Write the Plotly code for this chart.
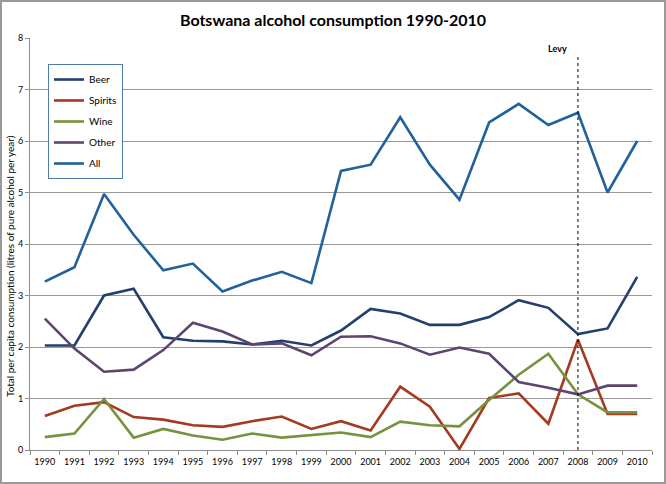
import plotly.graph_objects as go

years = [str(y) for y in range(1990, 2011)]
beer = [2.03, 2.03, 3.00, 3.13, 2.19, 2.12, 2.11, 2.05, 2.12, 2.03, 2.32,
        2.74, 2.65, 2.43, 2.43, 2.58, 2.91, 2.76, 2.25, 2.36, 3.36]
spirits = [0.66, 0.86, 0.93, 0.64, 0.59, 0.48, 0.45, 0.56, 0.65, 0.41, 0.56,
           0.38, 1.23, 0.84, 0.02, 1.01, 1.10, 0.51, 2.14, 0.70, 0.70]
wine = [0.25, 0.32, 0.99, 0.24, 0.41, 0.28, 0.20, 0.32, 0.24, 0.29, 0.34,
        0.25, 0.55, 0.48, 0.46, 0.97, 1.46, 1.87, 1.08, 0.73, 0.73]
other = [2.55, 1.97, 1.52, 1.56, 1.94, 2.47, 2.30, 2.05, 2.07, 1.84, 2.20,
         2.21, 2.07, 1.85, 1.99, 1.87, 1.32, 1.21, 1.08, 1.25, 1.25]
all_ = [3.27, 3.55, 4.97, 4.18, 3.49, 3.62, 3.08, 3.29, 3.46, 3.24, 5.42,
        5.54, 6.46, 5.54, 4.86, 6.36, 6.72, 6.31, 6.55, 5.00, 6.00]

series_names = ["Beer", "Spirits", "Wine", "Other", "All"]
series_values = [beer, spirits, wine, other, all_]
series_colors = ["#243F6E", "#A33A22", "#77923C", "#5E4570", "#21619C"]

levy_year = "2008"
levy_top = 7.63
y_ticks = list(range(0, 9))

FONT = "Lato, Open Sans, sans-serif"

# category axis: shapes need the category index
levy_idx = years.index(levy_year)

fig = go.Figure()
for i, (name, vals, col) in enumerate(zip(series_names, series_values, series_colors)):
    fig.add_trace(go.Scatter(
        x=years, y=vals, name=name, mode="lines",
        line=dict(color=col, width=2.6),
        legendgroup=name,
    ))

fig.add_shape(type="line", xref="x", yref="y",
              x0=levy_idx, x1=levy_idx, y0=0, y1=levy_top,
              line=dict(color="black", width=1, dash="dot"), layer="above")
fig.add_annotation(x=levy_idx, y=levy_top, xref="x", yref="y",
                   text="<b>Levy</b>", showarrow=False,
                   xanchor="right", yanchor="bottom", xshift=-9, yshift=1,
                   font=dict(family=FONT, size=9, color="black"))

# y-axis title (placed like the reference, slightly below plot centre)
fig.add_annotation(x=-20/622, y=184/412, xref="paper", yref="paper",
                   text="Total per capita consumption (litres of pure alcohol per year)",
                   textangle=-90, showarrow=False,
                   xanchor="center", yanchor="middle",
                   font=dict(family=FONT, size=10, color="black"))

# outer chart frame
fig.add_shape(type="rect", xref="paper", yref="paper",
              x0=-29/622, x1=635/622, y0=-33/412, y1=449/412,
              line=dict(color="#9A9A9A", width=2), layer="above")

fig.update_layout(
    width=666, height=484,
    margin=dict(l=30, r=14, t=38, b=34),
    paper_bgcolor="white", plot_bgcolor="white",
    title=dict(text="<b>Botswana alcohol consumption 1990-2010</b>",
               x=0.5, xanchor="center", y=0.958, yanchor="middle",
               font=dict(family=FONT, size=16, color="black")),
    font=dict(family=FONT, size=9, color="black"),
    showlegend=True,
    legend=dict(x=18/622, y=386/412, xanchor="left", yanchor="top",
                bordercolor="#4F7BB0", borderwidth=1, bgcolor="white",
                font=dict(family=FONT, size=10, color="black"),
                tracegroupgap=2, itemwidth=30),
    xaxis=dict(type="category", range=[-0.5, 20.5], autorange=False,
               showgrid=False, showline=True,
               linecolor="#8C8C8C", linewidth=1, automargin=False,
               ticks="outside", tickson="boundaries", ticklen=4,
               tickcolor="#8C8C8C", tickangle=0, ticklabelstandoff=3,
               tickfont=dict(family=FONT, size=9, color="black")),
    yaxis=dict(range=[0, 8], tickvals=y_ticks, showgrid=True,
               gridcolor="#999999", gridwidth=1, automargin=False,
               showline=True, linecolor="#8C8C8C", linewidth=1,
               ticks="outside", ticklen=4, tickcolor="#8C8C8C",
               zeroline=False,
               tickfont=dict(family=FONT, size=9, color="black")),
)

fig.write_html("out.html", config={"displayModeBar": False},
               post_script="document.body.style.margin='0';")
